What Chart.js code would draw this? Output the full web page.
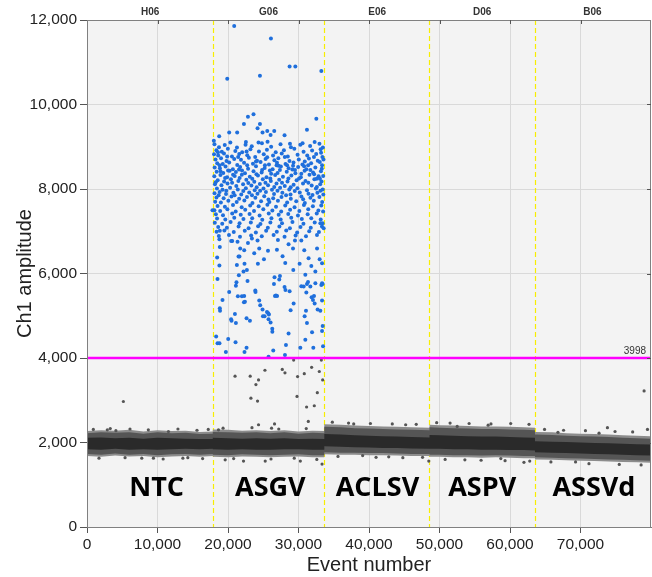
<!DOCTYPE html>
<html>
<head>
<meta charset="utf-8">
<script src="https://cdn.jsdelivr.net/npm/chart.js@4/dist/chart.umd.min.js"></script>
<style>
  html, body { margin: 0; padding: 0; background: #ffffff; }
  canvas { display: block; }
</style>
</head>
<body>
<canvas id="ddpcr" width="652" height="577"></canvas>
<script>
// Wells (top labels), sample names and where the wells split
const wellNames = ['H06', 'G06', 'E06', 'D06', 'B06'];
const wellCenters = [8950, 25750, 41150, 56060, 71700];
const sampleNames = ['NTC', 'ASGV', 'ACLSV', 'ASPV', 'ASSVd'];
const sampleCenters = [9870, 26000, 41200, 56060, 71900];
const wellBounds = [17840, 33660, 48580, 63540];
const threshold = 3998;

// Negative droplet band (event number, amplitude envelope)
const bandEvents = [
    0, 2000, 4000, 6000, 8000, 10000, 12000, 14000, 16000, 17840,
    17840, 20000, 22000, 24000, 26000, 28000, 30000, 32000, 33660,
    33660, 36000, 38000, 40000, 42000, 44000, 46000, 48580,
    48580, 50000, 52000, 54000, 56000, 58000, 60000, 62000, 63540,
    63540, 66000, 68000, 70000, 72000, 74000, 76000, 78000, 80000
];
const haloTop = [
    2270, 2290, 2280, 2300, 2260, 2290, 2270, 2280, 2250, 2260,
    2310, 2300, 2280, 2290, 2270, 2290, 2260, 2280, 2270,
    2430, 2420, 2400, 2390, 2380, 2370, 2360, 2350,
    2420, 2410, 2400, 2390, 2380, 2380, 2370, 2360, 2350,
    2250, 2240, 2220, 2210, 2200, 2190, 2170, 2160, 2150
];
const bandTop = [
    2220, 2240, 2230, 2240, 2210, 2240, 2220, 2230, 2200, 2210,
    2250, 2240, 2230, 2240, 2220, 2240, 2210, 2230, 2220,
    2370, 2360, 2340, 2330, 2320, 2310, 2300, 2290,
    2360, 2350, 2340, 2330, 2320, 2320, 2310, 2300, 2290,
    2190, 2180, 2160, 2150, 2140, 2130, 2110, 2100, 2090
];
const coreTop = [
    2110, 2120, 2100, 2110, 2090, 2110, 2100, 2090, 2080, 2080,
    2110, 2100, 2090, 2100, 2090, 2100, 2080, 2090, 2080,
    2200, 2190, 2170, 2160, 2150, 2140, 2130, 2120,
    2180, 2170, 2160, 2150, 2140, 2140, 2130, 2120, 2110,
    2030, 2020, 2010, 2000, 1990, 1980, 1970, 1960, 1950
];
const coreBottom = [
    1840, 1830, 1850, 1830, 1840, 1830, 1840, 1850, 1840, 1850,
    1840, 1830, 1840, 1830, 1830, 1840, 1840, 1830, 1830,
    1910, 1900, 1890, 1880, 1870, 1870, 1860, 1850,
    1850, 1850, 1840, 1840, 1830, 1830, 1820, 1820, 1810,
    1770, 1760, 1750, 1740, 1730, 1720, 1710, 1700, 1690
];
const bandBottom = [
    1730, 1710, 1740, 1710, 1730, 1700, 1720, 1730, 1710, 1730,
    1710, 1700, 1720, 1710, 1700, 1710, 1720, 1700, 1700,
    1770, 1760, 1760, 1750, 1750, 1740, 1730, 1730,
    1710, 1710, 1700, 1700, 1690, 1700, 1690, 1680, 1680,
    1650, 1640, 1630, 1620, 1610, 1600, 1590, 1580, 1570
];
const haloBottom = [
    1680, 1660, 1690, 1670, 1680, 1650, 1670, 1680, 1660, 1680,
    1660, 1650, 1670, 1660, 1650, 1660, 1670, 1650, 1650,
    1720, 1710, 1710, 1700, 1700, 1690, 1680, 1680,
    1660, 1660, 1650, 1650, 1640, 1650, 1640, 1630, 1630,
    1600, 1590, 1580, 1570, 1560, 1550, 1540, 1530, 1520
];

// Grey droplets outside the band (rain and stragglers)
const greyDroplets = [
    [5160,2970],[21000,3570],[23150,3570],[24330,3480],[23960,3370],[25240,3710],[27700,3730],
    [28080,3650],[29310,3950],[29870,3560],[30820,3630],[31860,3780],[32950,3680],[33240,3950],
    [33430,3480],[23250,3050],[24190,2980],[29790,3090],[32670,3180],[31150,2840],[32240,2870],
    [31390,2500],[24330,2420],[26600,2440],[26180,2340],[79020,3220],
    [2880,2300],[11550,2260],[7770,1630],[9420,1630],[19600,1590],[22200,1560],[25280,1560],
    [30260,1560],[33340,1490],[18650,2300],[37830,2440],[52510,2380],[73820,2350],[72630,2220],
    [79500,2310],[42800,1660],[61980,1530],[48480,1560],[14300,1640],[4100,2280],[45200,2420],
    [56900,2410],[66800,2240],[69300,1540],[39100,1690],[58700,1620],
    // speckles on the edges of the band
    [900,2310],[3300,2330],[6100,2320],[8700,2300],[12900,2320],[15600,2290],[17200,2310],
    [1700,1630],[5400,1640],[10800,1610],[13600,1630],[16400,1620],[19300,2340],[23400,2350],
    [27200,2320],[31100,2330],[20800,1620],[26100,1610],[29400,1630],[32600,1600],
    [34800,2480],[37100,2460],[40200,2450],[43300,2440],[46700,2430],[35600,1670],[41000,1650],
    [44800,1640],[47600,1650],[49600,2470],[51500,2460],[54200,2450],[57300,2440],[60100,2450],
    [62700,2430],[50800,1600],[53600,1590],[55900,1580],[59300,1570],[62800,1560],
    [64900,2310],[67600,2290],[70700,2280],[74900,2260],[77400,2250],[65800,1540],[71200,1500],
    [75500,1480],[78600,1470]
];

// Blue (positive) droplets, ASGV well
const blueDroplets = [
    // high outliers
    [20880,11860],[26090,11560],[28740,10900],[29550,10900],[33240,10790],[19890,10610],[24530,10680],
    [22830,9710],[23620,9770],[32530,9660],[22260,9540],[24530,9540],[20170,9340],[21300,9340],
    [24190,9440],[24900,9340],[25570,9370],[26560,9370],[26040,9280],[28020,9270],[31200,9400],
    [18750,9250],[17990,9140],[22540,9110],[24330,9100],[25610,9120],[28790,9070],[30580,9080],[32290,9110],
    // dense cluster
    [18080,9060],[18720,8990],[19540,9040],[20330,9100],[21270,8980],[22490,9050],[23370,9010],[24810,9080],
    [26120,9000],[27450,9060],[28930,8990],[30260,9050],[31650,9020],[32970,9070],[33460,8980],
    [18350,8920],[19120,8880],[19980,8950],[21040,8900],[22010,8870],[23180,8940],[24390,8890],[25520,8930],
    [26770,8870],[27930,8920],[29410,8950],[30720,8880],[31930,8910],[33140,8940],
    [18020,8820],[18610,8790],[19430,8840],[20560,8770],[21590,8830],[22730,8800],[23860,8760],[25070,8820],
    [26390,8790],[27620,8840],[28480,8770],[29870,8810],[31240,8790],[32510,8830],[33390,8760],
    [18230,8700],[19010,8730],[19790,8660],[20880,8710],[21840,8690],[22960,8740],[24110,8670],[25330,8710],
    [26580,8680],[27140,8730],[28720,8660],[30040,8700],[31480,8720],[32730,8670],[33540,8700],
    [18470,8610],[19260,8590],[20170,8630],[21310,8570],[22280,8620],[23540,8600],[24620,8640],[25810,8580],
    [26950,8620],[28160,8590],[29290,8630],[30560,8580],[31790,8610],[33020,8640],
    [18110,8510],[18850,8490],[19650,8530],[20690,8470],[21720,8520],[22850,8480],[23970,8540],[25200,8500],
    [26330,8470],[27500,8530],[28600,8490],[29950,8520],[31110,8470],[32390,8510],[33310,8480],
    [18390,8410],[19330,8380],[20240,8430],[21120,8400],[22410,8370],[23620,8420],[24770,8390],[25940,8440],
    [27030,8380],[28330,8410],[29560,8370],[30860,8430],[32060,8390],[33180,8420],
    [18060,8300],[18930,8330],[19870,8280],[20950,8310],[21960,8340],[23090,8290],[24250,8320],[25460,8280],
    [26690,8330],[27790,8290],[28990,8320],[30330,8280],[31560,8340],[32850,8300],[33500,8310],
    [18540,8210],[19450,8180],[20420,8230],[21470,8190],[22600,8220],[23730,8170],[24940,8230],[26070,8190],
    [27260,8220],[28440,8180],[29730,8210],[30990,8190],[32250,8230],[33270,8180],
    [18150,8110],[19070,8090],[19930,8130],[21180,8070],[22140,8110],[23320,8080],[24520,8120],[25680,8090],
    [26880,8130],[28050,8070],[29310,8100],[30640,8130],[31870,8080],[33080,8110],
    [18430,8010],[19220,7980],[20300,8030],[21390,7990],[22530,8020],[23790,7970],[25030,8010],[26240,7980],
    [27390,8030],[28690,7990],[29850,8020],[31200,7970],[32470,8010],[33430,7990],
    [18090,7900],[18810,7930],[19720,7880],[20760,7910],[21880,7870],[23010,7920],[24180,7890],[25380,7930],
    [26530,7880],[27710,7910],[28870,7870],[30180,7920],[31420,7890],[32680,7910],[33520,7870],
    [18360,7800],[19380,7780],[20490,7820],[21580,7770],[22690,7810],[23880,7790],[25140,7830],[26410,7780],
    [27590,7810],[28910,7770],[30410,7820],[31690,7790],[32960,7810],
    [18180,7700],[18990,7680],[20050,7720],[21230,7690],[22320,7730],[23470,7670],[24690,7710],[25870,7690],
    [27080,7720],[28390,7680],[29680,7710],[30900,7670],[32170,7720],[33360,7690],
    [18520,7600],[19560,7580],[20710,7620],[21940,7570],[23150,7610],[24350,7590],[25590,7630],[26810,7580],
    [28120,7610],[29440,7570],[30770,7620],[32040,7590],[33230,7610],
    [18070,7500],[18890,7480],[19910,7520],[21090,7470],[22440,7510],[23690,7480],[25010,7520],[26290,7490],
    [27540,7470],[28810,7510],[30120,7480],[31380,7520],[32820,7490],[33490,7470],
    [18280,7400],[19290,7380],[20600,7420],[21810,7390],[23060,7410],[24480,7370],[25780,7420],[27190,7390],
    [28550,7410],[29920,7370],[31300,7400],[32590,7420],
    [18450,7300],[19620,7280],[20890,7320],[22190,7290],[23430,7310],[24860,7270],[26160,7310],[27470,7280],
    [28970,7320],[30470,7290],[31810,7310],[33150,7280],
    [18130,7200],[19180,7180],[20370,7220],[21640,7190],[23240,7210],[24600,7170],[26010,7210],[27660,7190],
    [29140,7220],[30700,7180],[32300,7210],[33410,7190],
    [18610,7100],[19840,7080],[21500,7110],[22920,7070],[24270,7120],[25650,7080],[27290,7110],[28780,7070],
    [30280,7100],[31740,7080],[33330,7110],
    [18380,6990],[19490,7020],[20820,6980],[22380,7010],[23950,6970],[25410,7010],[26920,6990],[28260,7020],
    [29810,6970],[31520,7000],[32900,6980],
    [18700,6890],[20140,6910],[21700,6870],[23280,6900],[24790,6880],[26470,6910],[28020,6870],[29590,6900],
    [31060,6880],[32620,6910],
    [18800,8560],[20010,8440],[21560,8460],[22720,8560],[24030,8350],[25240,8560],[26120,8360],[27360,8450],
    [28570,8250],[29130,8460],[30400,8360],[31370,8560],[32220,8350],[33040,8240],
    [18250,8160],[19590,8260],[20580,8150],[21650,8260],[22880,8140],[24070,8040],[25310,8150],[26560,8050],
    [27660,8150],[28890,8040],[30080,8250],[31400,8150],[32610,8050],[33340,8560],
    [18680,7850],[19750,7960],[20940,7850],[22170,7950],[23400,7850],[24560,7960],[25740,7750],[27020,7960],
    [28240,7850],[29470,7950],[30660,7760],[31990,7860],[33110,7960],
    [18570,8870],[19880,8770],[21440,8760],[22640,8890],[23970,8650],[25560,8750],[26890,8560],[28060,8760],
    [29230,8550],[30890,8650],[32190,8760],[33200,8860],
    [18940,8420],[20720,8340],[21990,8440],[23440,8240],[24840,8450],[26000,8250],[27170,8550],[28380,8560],
    [29500,8450],[30800,8540],[31680,8450],[32580,8240],
    // rain between cluster and threshold
    [18840,7010],[18780,6810],[18840,6630],[18460,6380],[18780,6190],[20450,6770],[20600,6770],[21350,6750],
    [21730,6590],[22300,6550],[21490,6400],[21630,6400],[21260,6200],[22340,6230],[22680,6080],[22830,6720],
    [23390,6830],[24190,6780],[24430,6590],[23720,6480],[24240,6230],[25100,6340],[25670,6540],[27080,6790],
    [26940,6560],[27740,6410],[28120,6250],[28590,6690],[29500,6780],[29220,6590],[30400,6780],[30820,6550],
    [31430,6360],[30160,6230],[31820,6180],[32630,6590],[33000,6340],[33340,6240],[33570,7070],[33100,7190],
    [17800,7500],[21540,5960],[22200,6050],[22770,5820],[26600,5910],[27370,5940],[29260,6080],[30970,5970],
    [32390,6050],[30730,5690],[31680,5690],[32390,5770],[33340,5770],
    [18510,5870],[19220,5370],[18840,5180],[18870,5120],[20170,5560],[21120,5710],[21200,5790],[21400,5460],
    [21970,5460],[22260,5320],[22400,5330],[22300,5470],[23900,5560],[23870,5600],[24430,5360],[24570,5250],
    [24900,5150],[25710,5060],[25530,5090],[25800,5030],[25190,4990],[25750,4920],[26040,4840],[26280,4690],
    [26290,4620],[26660,5470],[26800,5480],[26960,5470],[26520,5750],[28020,5680],[28150,5610],[27270,5860],
    [28740,5580],[29310,5290],[28880,5130],[28590,4580],[31200,5750],[31350,5800],[30400,5700],[31110,5550],
    [31860,5440],[32050,5370],[32200,5470],[32290,5290],[32710,5150],[33100,5120],[33340,5360],[33240,5730],
    [33420,5750],[31060,5120],[30870,4990],[31200,4830],[31920,4610],[33430,4760],[33340,4640],[30970,4430],
    [30260,4240],[32100,4240],[33480,4280],[18320,4510],[18510,4350],[18790,4350],[20030,4450],[19700,4140],
    [21070,4370],[22340,4140],[22630,4240],[25750,4030],[26420,4180],[28080,4070],[28220,4310],[20500,4880],
    [20440,4920],[21120,4830],[22630,4940],[23110,4880],[20980,5040],[24960,4990]
];

// Draws the grey plot background
const plotBackground = {
    id: 'plotBackground',
    beforeDraw(chart) {
        const {ctx, chartArea: a} = chart;
        ctx.save();
        ctx.fillStyle = '#f3f3f3';
        ctx.fillRect(a.left, a.top, a.right - a.left, a.bottom - a.top);
        ctx.restore();
    }
};

// Yellow dashed lines between wells
const wellDividers = {
    id: 'wellDividers',
    beforeDatasetsDraw(chart) {
        const {ctx, chartArea: a, scales: {x}} = chart;
        ctx.save();
        ctx.strokeStyle = '#f7ee00';
        ctx.lineWidth = 1.2;
        ctx.setLineDash([5, 3]);
        wellBounds.forEach(b => {
            const px = Math.round(x.getPixelForValue(b)) + 0.5;
            ctx.beginPath();
            ctx.moveTo(px, a.top);
            ctx.lineTo(px, a.bottom);
            ctx.stroke();
        });
        ctx.restore();
    }
};

// Threshold, well names, sample names and frame
const overlays = {
    id: 'overlays',
    afterDatasetsDraw(chart) {
        const {ctx, chartArea: a, scales: {x, y}} = chart;
        ctx.save();

        const ty = y.getPixelForValue(threshold);
        ctx.strokeStyle = '#ff00ff';
        ctx.lineWidth = 2.5;
        ctx.beginPath();
        ctx.moveTo(a.left, ty);
        ctx.lineTo(a.right, ty);
        ctx.stroke();

        ctx.fillStyle = '#333';
        ctx.font = '10px "Liberation Sans", Arial, sans-serif';
        ctx.textAlign = 'right';
        ctx.textBaseline = 'bottom';
        ctx.fillText(String(threshold), a.right - 5, ty - 2);

        // frame
        ctx.strokeStyle = '#808080';
        ctx.lineWidth = 1;
        ctx.strokeRect(a.left + 0.5, a.top + 0.5, a.right - a.left - 1, a.bottom - a.top);

        // small ticks along the top and right edges
        ctx.strokeStyle = '#555';
        for (let v = 10000; v < x.max; v += 10000) {
            const px = Math.round(x.getPixelForValue(v)) + 0.5;
            ctx.beginPath();
            ctx.moveTo(px, a.top);
            ctx.lineTo(px, a.top + 4);
            ctx.stroke();
        }
        for (let v = 2000; v < y.max; v += 2000) {
            const py = Math.round(y.getPixelForValue(v)) + 0.5;
            ctx.beginPath();
            ctx.moveTo(a.right - 4, py);
            ctx.lineTo(a.right, py);
            ctx.stroke();
        }

        ctx.fillStyle = '#333';
        ctx.font = 'bold 10px "Liberation Sans", Arial, sans-serif';
        ctx.textAlign = 'center';
        ctx.textBaseline = 'bottom';
        wellNames.forEach((name, i) => {
            ctx.fillText(name, x.getPixelForValue(wellCenters[i]), a.top - 3);
        });

        ctx.fillStyle = '#000';
        ctx.font = 'bold 27px "Open Sans", "DejaVu Sans", sans-serif';
        ctx.textBaseline = 'middle';
        sampleNames.forEach((name, i) => {
            ctx.fillText(name, x.getPixelForValue(sampleCenters[i]), 488);
        });
        ctx.restore();
    }
};

function bandLine(values, color, fill, order) {
    return {
        type: 'line',
        data: bandEvents.map((ev, i) => ({x: ev, y: values[i]})),
        borderWidth: 0,
        borderColor: 'rgba(0,0,0,0)',
        backgroundColor: color,
        pointRadius: 0,
        tension: 0,
        fill: fill,
        order: order
    };
}

function toPoints(list) {
    return list.map(p => ({x: p[0], y: p[1]}));
}

Chart.defaults.font.family = '"Liberation Sans", Arial, sans-serif';
Chart.defaults.color = '#222';

const ctx = document.getElementById('ddpcr').getContext('2d');
const ddpcrChart = new Chart(ctx, {
    type: 'scatter',
    data: {
        datasets: [
            bandLine(haloTop, '#8c8c8c', false, 6),
            bandLine(haloBottom, '#8c8c8c', '-1', 6),
            bandLine(bandTop, '#555555', false, 5),
            bandLine(bandBottom, '#555555', '-1', 5),
            bandLine(coreTop, '#2a2a2a', false, 4),
            bandLine(coreBottom, '#2a2a2a', '-1', 4),
            {
                data: toPoints(greyDroplets),
                pointRadius: 1.6,
                pointBorderWidth: 0,
                backgroundColor: '#555555',
                order: 2
            },
            {
                data: toPoints(blueDroplets),
                pointRadius: 2,
                pointBorderWidth: 0,
                backgroundColor: '#1f6fdc',
                order: 1
            }
        ]
    },
    options: {
        responsive: false,
        animation: false,
        devicePixelRatio: 1,
        layout: {
            autoPadding: false,
            padding: {top: 20, right: 1, left: 0, bottom: 0}
        },
        plugins: {
            legend: {display: false},
            tooltip: {enabled: false}
        },
        scales: {
            x: {
                type: 'linear',
                min: 0,
                max: 80000,
                // the end of the axis carries no tick or label
                afterBuildTicks: scale => {
                    scale.ticks = scale.ticks.filter(t => t.value < 80000);
                },
                afterFit: scale => { scale.height = 50; },
                ticks: {
                    stepSize: 10000,
                    padding: 2,
                    font: {size: 15.5},
                    color: '#222',
                    callback: v => v.toLocaleString('en-US')
                },
                grid: {color: '#d9d9d9', tickColor: '#555', tickLength: 6},
                border: {color: '#777'},
                title: {
                    display: true,
                    text: 'Event number',
                    font: {size: 20},
                    color: '#222',
                    padding: {top: 0, bottom: 0}
                }
            },
            y: {
                min: 0,
                max: 12000,
                afterFit: scale => { scale.width = 87; },
                ticks: {
                    stepSize: 2000,
                    padding: 3,
                    font: {size: 15.5},
                    color: '#222',
                    callback: v => v.toLocaleString('en-US')
                },
                grid: {color: '#d9d9d9', tickColor: '#555', tickLength: 7},
                border: {color: '#777'},
                title: {
                    display: true,
                    text: 'Ch1 amplitude',
                    font: {size: 20},
                    color: '#222',
                    padding: {top: 13, bottom: 0}
                }
            }
        }
    },
    plugins: [plotBackground, wellDividers, overlays]
});
</script>
</body>
</html>
